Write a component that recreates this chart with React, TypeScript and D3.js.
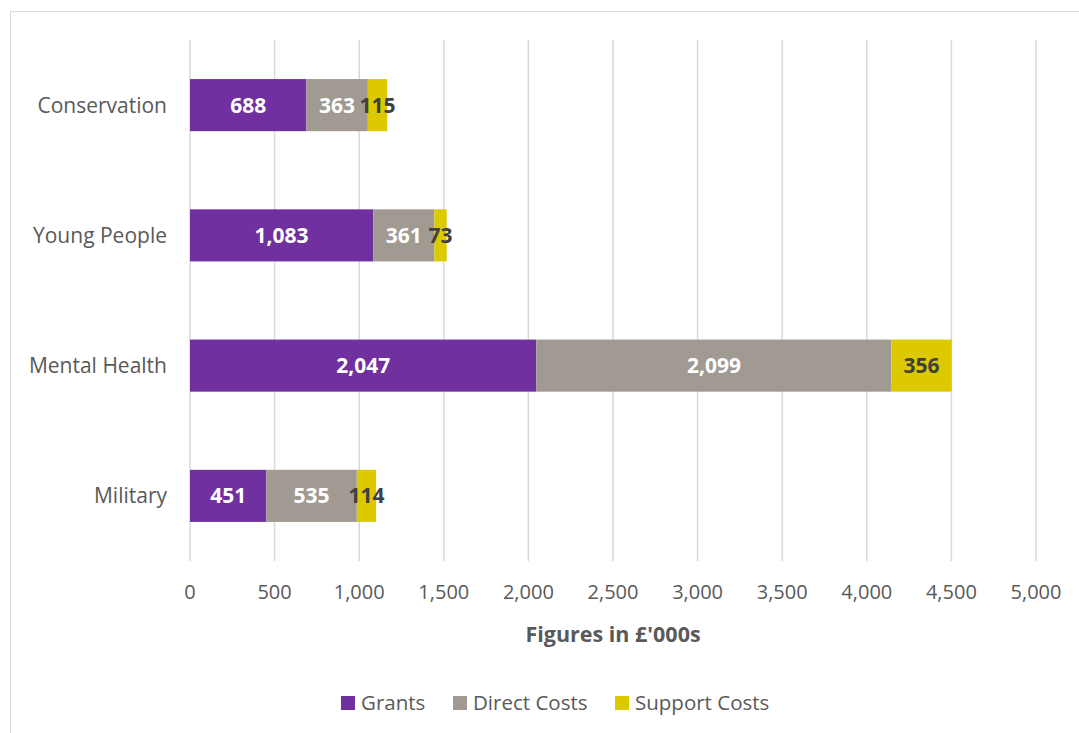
import React from "react";
import * as d3 from "d3";

const categories = ["Conservation", "Young People", "Mental Health", "Military"];
const seriesNames = ["Grants", "Direct Costs", "Support Costs"];
const grants = [688, 1083, 2047, 451];
const directCosts = [363, 361, 2099, 535];
const supportCosts = [115, 73, 356, 114];
const xTicks = [0, 500, 1000, 1500, 2000, 2500, 3000, 3500, 4000, 4500, 5000];
const colors = ["#7030A0", "#A19A93", "#DCC900"];
const labelColors = ["#FFFFFF", "#FFFFFF", "#404040"];

const W = 1079;
const H = 733;
const FONT = "'Open Sans', 'Noto Sans', sans-serif";

export default function App() {
  const x = d3.scaleLinear().domain([0, 5000]).range([190, 1036]);
  const y = d3.scaleBand<string>().domain(categories).range([40, 561]).paddingInner(0.6).paddingOuter(0.3);
  const rows = categories.map((c, i) => ({ cat: c, Grants: grants[i], "Direct Costs": directCosts[i], "Support Costs": supportCosts[i] }));
  const stack = d3.stack<any>().keys(seriesNames)(rows);
  const fmt = d3.format(",");
  const legendX = [341, 453, 615];

  return (
    <div style={{ position: "absolute", left: 0, top: 0 }}>
      <svg width={W} height={H} style={{ display: "block" }} fontFamily={FONT}>
        <rect x={0} y={0} width={W} height={H} fill="#fff" />
        <rect x={10.5} y={11.5} width={W + 20} height={H + 20} fill="#fff" stroke="#D9D9D9" strokeWidth={1} />
        {xTicks.map((t) => (
          <line key={t} x1={x(t)} x2={x(t)} y1={40} y2={561} stroke="#D9D9D9" strokeWidth={1.5} />
        ))}
        {stack.map((s, si) =>
          s.map((d, di) => {
            const x0 = x(d[0]);
            const x1 = x(d[1]);
            const yy = y(categories[di])!;
            return <rect key={si + "-" + di} x={x0} y={yy} width={x1 - x0} height={y.bandwidth()} fill={colors[si]} />;
          })
        )}
        {stack.map((s, si) =>
          s.map((d, di) => {
            const x0 = x(d[0]);
            const x1 = x(d[1]);
            const yy = y(categories[di])! + y.bandwidth() / 2;
            return (
              <text key={"l" + si + "-" + di} x={(x0 + x1) / 2} y={yy} dy="0.36em" textAnchor="middle" fill={labelColors[si]} fontWeight="bold" fontSize={21}>
                {fmt(d[1] - d[0])}
              </text>
            );
          })
        )}
        {categories.map((c) => (
          <text key={c} x={167} y={y(c)! + y.bandwidth() / 2} dy="0.36em" textAnchor="end" fill="#595959" fontSize={21}>
            {c}
          </text>
        ))}
        {xTicks.map((t) => (
          <text key={"t" + t} x={x(t)} y={592} dy="0.36em" textAnchor="middle" fill="#595959" fontSize={20}>
            {fmt(t)}
          </text>
        ))}
        <text x={613} y={634} dy="0.36em" textAnchor="middle" fill="#595959" fontWeight="bold" fontSize={21.5}>
          Figures in £'000s
        </text>
        {seriesNames.map((n, i) => (
          <g key={n}>
            <rect x={legendX[i]} y={696} width={14} height={14} fill={colors[i]} />
            <text x={legendX[i] + 20} y={703} dy="0.36em" fill="#595959" fontSize={20.5}>
              {n}
            </text>
          </g>
        ))}
      </svg>
    </div>
  );
}
